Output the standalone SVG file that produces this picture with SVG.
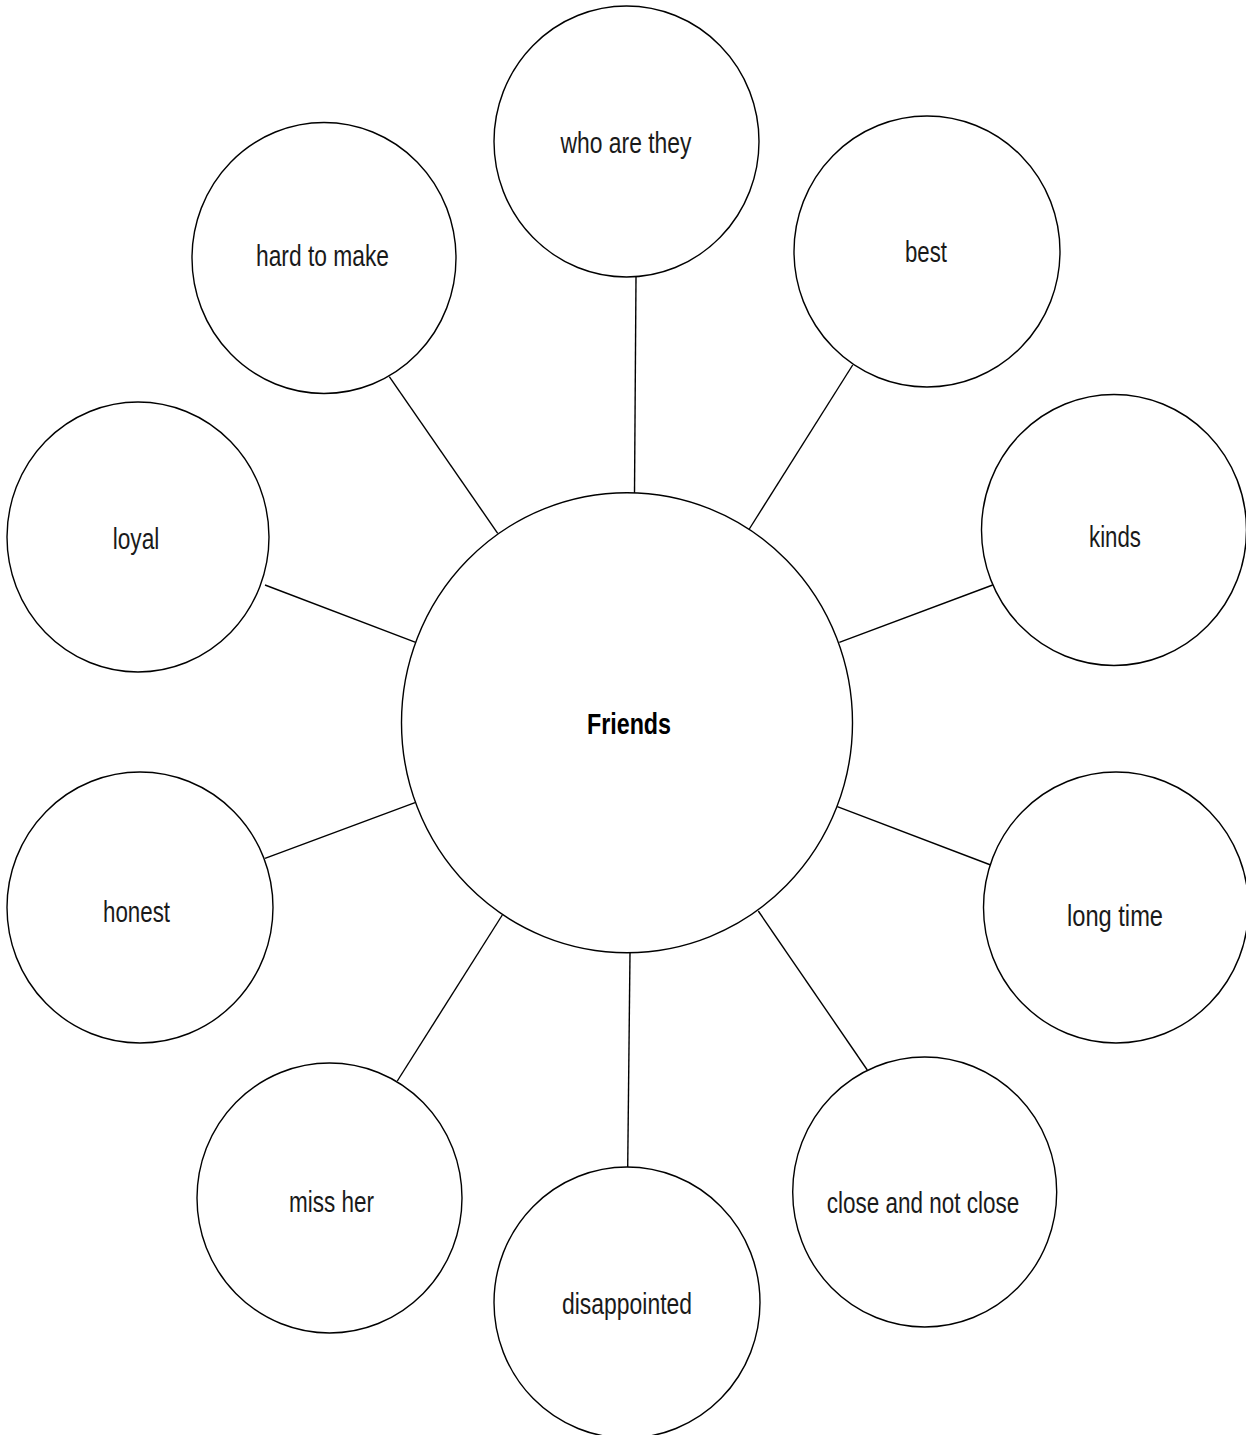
<svg xmlns="http://www.w3.org/2000/svg" width="1246" height="1435" viewBox="0 0 1246 1435">
<style>
.n{fill:#fff;stroke:#000;stroke-width:1.4}
.c line{stroke:#000;stroke-width:1.4}
.t{font-family:"Liberation Sans",Arial,sans-serif;font-size:30px;fill:#1a1a1a;text-anchor:middle}
.b{font-weight:bold;font-size:30px;fill:#000}
</style>
<rect width="1246" height="1435" fill="#fff"/>
<g id="connectors" class="c">
<line x1="636" y1="277" x2="634.5" y2="493"/>
<line x1="389.3" y1="376.7" x2="497.7" y2="533.3"/>
<line x1="852.7" y1="365" x2="749.3" y2="529"/>
<line x1="992.7" y1="585" x2="839.3" y2="642.3"/>
<line x1="990.7" y1="865" x2="837.3" y2="806.7"/>
<line x1="867.3" y1="1070" x2="758.3" y2="911"/>
<line x1="627.7" y1="1167.3" x2="630" y2="952.7"/>
<line x1="397.3" y1="1081" x2="502.3" y2="915"/>
<line x1="265" y1="858.3" x2="415" y2="802.7"/>
<line x1="265" y1="585" x2="415.7" y2="642.3"/>
</g>
<g id="friends"><ellipse class="n" cx="627" cy="722.7" rx="225.5" ry="230"/><text class="t b" x="629" y="734" textLength="84" lengthAdjust="spacingAndGlyphs">Friends</text></g>
<g id="who-are-they"><ellipse class="n" cx="626.5" cy="141.5" rx="132.5" ry="135.5"/><text class="t" x="626" y="153" textLength="131" lengthAdjust="spacingAndGlyphs">who are they</text></g>
<g id="best"><ellipse class="n" cx="927" cy="251.5" rx="133" ry="135.5"/><text class="t" x="926" y="262" textLength="42" lengthAdjust="spacingAndGlyphs">best</text></g>
<g id="kinds"><ellipse class="n" cx="1114" cy="530" rx="132.5" ry="135.5"/><text class="t" x="1115" y="547" textLength="52" lengthAdjust="spacingAndGlyphs">kinds</text></g>
<g id="long-time"><ellipse class="n" cx="1116" cy="907.5" rx="132.5" ry="135.5"/><text class="t" x="1115" y="926" textLength="96" lengthAdjust="spacingAndGlyphs">long time</text></g>
<g id="close-and-not-close"><ellipse class="n" cx="924.7" cy="1192" rx="132" ry="135"/><text class="t" x="923" y="1212.7" textLength="192.5" lengthAdjust="spacingAndGlyphs">close and not close</text></g>
<g id="disappointed"><ellipse class="n" cx="627" cy="1302.5" rx="133" ry="135.5"/><text class="t" x="627" y="1314" textLength="130" lengthAdjust="spacingAndGlyphs">disappointed</text></g>
<g id="miss-her"><ellipse class="n" cx="329.5" cy="1198" rx="132.5" ry="135"/><text class="t" x="331.5" y="1212" textLength="85" lengthAdjust="spacingAndGlyphs">miss her</text></g>
<g id="honest"><ellipse class="n" cx="140" cy="907.5" rx="133" ry="135.5"/><text class="t" x="136.5" y="922" textLength="67" lengthAdjust="spacingAndGlyphs">honest</text></g>
<g id="loyal"><ellipse class="n" cx="138" cy="537" rx="131" ry="135"/><text class="t" x="136" y="549" textLength="46.7" lengthAdjust="spacingAndGlyphs">loyal</text></g>
<g id="hard-to-make"><ellipse class="n" cx="324" cy="258" rx="132" ry="135.5"/><text class="t" x="322.5" y="265.7" textLength="133" lengthAdjust="spacingAndGlyphs">hard to make</text></g>
</svg>
